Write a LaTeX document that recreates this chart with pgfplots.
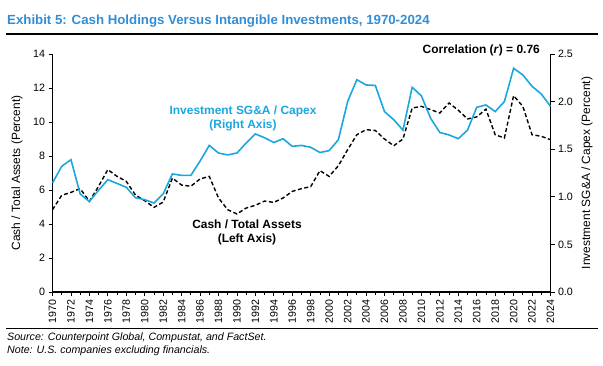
\documentclass[border=0pt]{standalone}
\usepackage{pgfplots}
\pgfplotsset{compat=1.18}
\usepackage{fontspec}
\setmainfont{Liberation Sans}
\definecolor{lineblue}{HTML}{1AA7E0}
\definecolor{titleblue}{HTML}{2F8ED8}
\begin{document}
\begin{tikzpicture}[x=1bp,y=1bp]
\useasboundingbox (0,0) rectangle (603,365);
\node[anchor=west, inner sep=0, text=titleblue, font=\fontsize{13.3}{15}\selectfont\bfseries] at (7,344.3) {Exhibit 5: Cash Holdings Versus Intangible Investments, 1970-2024};
\draw[line width=1.2bp] (6,331) -- (598,331);
\draw[line width=0.8bp] (6,36.7) -- (598,36.7);
\node[anchor=west, inner sep=0, font=\fontsize{10.7}{12}\selectfont\itshape] at (7,27.3) {Source: Counterpoint Global, Compustat, and FactSet.};
\node[anchor=west, inner sep=0, font=\fontsize{10.7}{12}\selectfont\itshape] at (7,14) {Note: U.S. companies excluding financials.};

\pgfplotsset{every axis/.append style={
  at={(52.5bp,73bp)}, anchor=south west, scale only axis, width=498bp, height=238bp,
  xmin=1970, xmax=2024, tick align=outside, axis line style={-, line width=1.2bp},
  major tick length=4bp, minor tick length=3bp,
  tick style={line width=0.8bp, black},
  tick label style={font=\fontsize{10.7}{12}\selectfont},
  /pgf/number format/assume math mode=true,
  clip=false}}

\begin{axis}[
  ymin=0, ymax=14, ytick={0,2,...,14},
  axis x line*=bottom, axis y line*=left,
  xtick={1970,1972,...,2024}, minor xtick={1971,1973,...,2023},
  xticklabel style={rotate=90, anchor=east, /pgf/number format/1000 sep={}},
]
\addplot[black, line width=1.4bp, dash pattern=on 4bp off 2.5bp] coordinates {
(1970,4.84) (1971,5.69) (1972,5.86) (1973,6.08) (1974,5.33) (1975,6.22) (1976,7.2) (1977,6.8) (1978,6.51) (1979,5.7)
(1980,5.37) (1981,4.98) (1982,5.29) (1983,6.7) (1984,6.29) (1985,6.22) (1986,6.65) (1987,6.8) (1988,5.53) (1989,4.84)
(1990,4.59) (1991,4.94) (1992,5.1) (1993,5.35) (1994,5.27) (1995,5.53) (1996,5.92) (1997,6.08) (1998,6.2) (1999,7.14)
(2000,6.8) (2001,7.43) (2002,8.37) (2003,9.25) (2004,9.55) (2005,9.5) (2006,9.0) (2007,8.6) (2008,9.0) (2009,10.82)
(2010,10.92) (2011,10.73) (2012,10.53) (2013,11.12) (2014,10.69) (2015,10.18) (2016,10.3) (2017,10.76) (2018,9.25) (2019,9.06)
(2020,11.55) (2021,10.92) (2022,9.25) (2023,9.16) (2024,8.96)};
\end{axis}

\begin{axis}[
  ymin=0, ymax=2.5, ytick={0,0.5,...,2.5},
  axis y line*=right, axis x line=none,
  yticklabel style={/pgf/number format/.cd, fixed, fixed zerofill, precision=1},
]
\addplot[lineblue, line width=1.6bp] coordinates {
(1970,1.145) (1971,1.32) (1972,1.39) (1973,1.03) (1974,0.95) (1975,1.07) (1976,1.18) (1977,1.14) (1978,1.10) (1979,0.99)
(1980,0.97) (1981,0.935) (1982,1.03) (1983,1.24) (1984,1.225) (1985,1.225) (1986,1.375) (1987,1.54) (1988,1.46) (1989,1.44)
(1990,1.46) (1991,1.565) (1992,1.66) (1993,1.62) (1994,1.57) (1995,1.61) (1996,1.53) (1997,1.54) (1998,1.52) (1999,1.465)
(2000,1.485) (2001,1.6) (2002,2.0) (2003,2.23) (2004,2.175) (2005,2.17) (2006,1.895) (2007,1.81) (2008,1.70) (2009,2.15)
(2010,2.06) (2011,1.825) (2012,1.675) (2013,1.65) (2014,1.61) (2015,1.70) (2016,1.94) (2017,1.965) (2018,1.895) (2019,2.0)
(2020,2.35) (2021,2.28) (2022,2.16) (2023,2.08) (2024,1.95)};
\end{axis}

\node[rotate=90, font=\fontsize{12}{14}\selectfont] at (17,192) {Cash / Total Assets (Percent)};
\node[rotate=90, font=\fontsize{12}{14}\selectfont] at (587,192) {Investment SG\&A / Capex (Percent)};
\node[anchor=east, inner sep=0, font=\fontsize{12}{14}\selectfont\bfseries] at (540,315) {Correlation (\textit{r}) = 0.76};
\node[align=center, text=lineblue, font=\fontsize{12}{14}\selectfont\bfseries] at (243,247) {Investment SG\&A / Capex\\(Right Axis)};
\node[align=center, font=\fontsize{12}{14}\selectfont\bfseries] at (247,133) {Cash / Total Assets\\(Left Axis)};
\end{tikzpicture}
\end{document}
